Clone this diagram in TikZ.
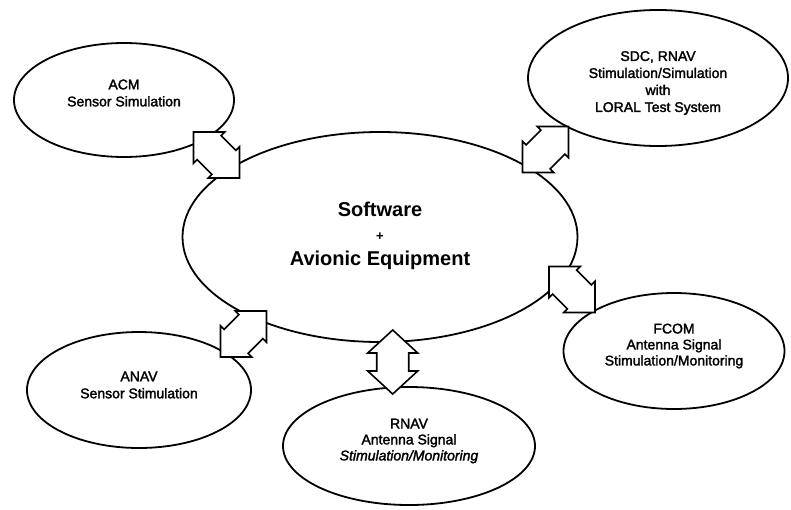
\documentclass[tikz,border=0pt]{standalone}
\usepackage{fontspec}
\setmainfont{Liberation Sans}
\newfontfamily\scanfont[FakeBold=2]{Liberation Sans}
\usetikzlibrary{shapes.geometric}
\begin{document}
\begin{tikzpicture}[x=1pt,y=-1pt,
  bubble/.style={ellipse, draw, line width=1.8pt, inner sep=0pt},
  label/.style={align=center, font=\scanfont\fontsize{14}{17}\selectfont},
  arrowline/.style={draw, fill=white, line width=1.6pt, line join=miter},
  diagarrow/.pic={\path[arrowline] (32.5,0) -- (10.5,22) -- (10.5,17) -- (-10.5,17)
     -- (-10.5,22) -- (-32.5,0) -- (-10.5,-22) -- (-10.5,-17) -- (10.5,-17)
     -- (10.5,-22) -- cycle;},
  vertarrow/.pic={\path[arrowline] (32,0) -- (9,25) -- (9,16) -- (-9,16)
     -- (-9,25) -- (-32,0) -- (-9,-25) -- (-9,-16) -- (9,-16)
     -- (9,-25) -- cycle;}
]
\useasboundingbox (0,0) rectangle (791,509);
% ellipses
\node[bubble, minimum width=395pt, minimum height=210pt] (core) at (380,237) {};
\node[bubble, minimum width=220pt, minimum height=114pt] (acm) at (124,100) {};
\node[bubble, minimum width=260pt, minimum height=136pt] (sdc) at (658,78) {};
\node[bubble, minimum width=224pt, minimum height=116pt] (anav) at (139,390) {};
\node[bubble, minimum width=252pt, minimum height=118pt] (rnav) at (409,446) {};
\node[bubble, minimum width=221pt, minimum height=116pt] (fcom) at (674,351) {};
% texts
\node[align=center, font=\bfseries\fontsize{20}{25}\selectfont] (coret) at (380,236)
  {Software\\[-1pt]{\fontsize{13}{13}\selectfont +}\\Avionic Equipment};
\node[label] (acmt) at (124,93) {ACM\\Sensor Simulation};
\node[label] (sdct) at (658,83) {SDC, RNAV\\Stimulation/Simulation\\with\\LORAL Test System};
\node[label] (anavt) at (139,385) {ANAV\\Sensor Stimulation};
\node[label, font=\scanfont\fontsize{14}{16}\selectfont] (rnavt) at (409,441) {RNAV\\Antenna Signal\\\textit{Stimulation/Monitoring}};
\node[label, font=\scanfont\fontsize{14}{16}\selectfont] (fcomt) at (674,346) {FCOM\\Antenna Signal\\Stimulation/Monitoring};
% block arrows
\pic[rotate=-45] (a1) at (216.5,155) {diagarrow};
\pic[rotate=45] (a2) at (545.5,149.5) {diagarrow};
\pic[rotate=-45] (a3) at (572,289.5) {diagarrow};
\pic[rotate=45] (a4) at (243.5,334) {diagarrow};
\pic[rotate=90] (a5) at (392.7,362) {vertarrow};
\end{tikzpicture}
\end{document}
